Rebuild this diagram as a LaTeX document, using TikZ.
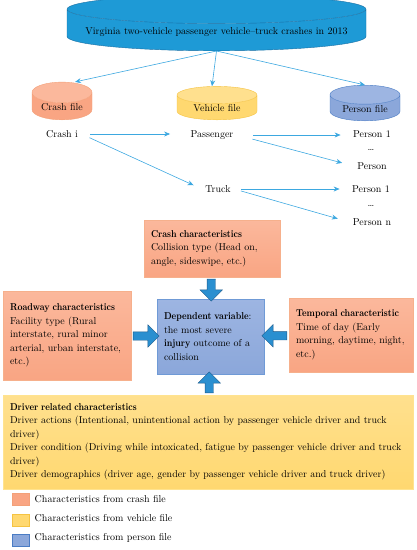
\documentclass[tikz,border=0pt]{standalone}
\usetikzlibrary{arrows.meta, positioning, shapes.geometric, shapes.arrows, calc}

\definecolor{dbfill}{HTML}{1E9AD6}
\definecolor{dbedge}{HTML}{1A6FA3}
\definecolor{crashfill}{HTML}{F9A583}
\definecolor{crashtop}{HTML}{FBB89C}
\definecolor{crashedge}{HTML}{F3A078}
\definecolor{vehfill}{HTML}{FFD870}
\definecolor{vehtop}{HTML}{FFE08E}
\definecolor{vehedge}{HTML}{F5C342}
\definecolor{persfill}{HTML}{8BA7DA}
\definecolor{perstop}{HTML}{9DB5E2}
\definecolor{persedge}{HTML}{4A7CC4}
\definecolor{linkblue}{HTML}{3DA8E0}
\definecolor{arrowfill}{HTML}{2A8FD0}
\definecolor{arrowedge}{HTML}{1F5A8A}
\definecolor{boxedge}{HTML}{F6B08C}
\definecolor{drvedge}{HTML}{FFE38F}
\definecolor{depedge}{HTML}{6F9AD6}

\newcommand{\headline}[1]{\scalebox{0.87}[1]{\textbf{#1}}}

\begin{document}
\begin{tikzpicture}[x=1pt, y=-1pt, >={Stealth[length=6pt,width=5pt]},
  font=\fontsize{10}{13.5}\selectfont,
  file node/.style={cylinder, shape border rotate=90, draw, thin, cylinder uses custom fill, anchor=south},
  small file/.style={file node, inner sep=1pt, minimum height=31pt},
  info box/.style={rectangle, draw, thin, align=left, inner xsep=7pt},
  crash box/.style={info box, draw=boxedge, top color=crashtop, bottom color=crashfill},
  link/.style={->, draw=linkblue, line width=0.6pt},
  big arrow/.style={single arrow, draw=arrowedge, fill=arrowfill, thin, inner sep=4pt,
    minimum width=22pt, single arrow head extend=7pt},
  key box/.style={rectangle, draw, thin, minimum width=17pt, minimum height=12pt, inner sep=0pt}]

  \useasboundingbox (0,0) rectangle (417,550);

  % data files
  \node[file node, draw=dbedge, cylinder body fill=dbfill, cylinder end fill=dbfill,
    minimum width=299pt, minimum height=48pt, aspect=0.107] (db) at (216.5,51)
    {Virginia two-vehicle passenger vehicle--truck crashes in 2013};
  \node[small file, draw=crashedge, cylinder body fill=crashfill, cylinder end fill=crashtop,
    minimum width=60pt, aspect=0.47] (crashf) at (62,120) {Crash file};
  \node[small file, draw=vehedge, cylinder body fill=vehfill, cylinder end fill=vehtop,
    minimum width=80pt, aspect=0.35] (vehf) at (217,120) {Vehicle file};
  \node[small file, draw=persedge, cylinder body fill=persfill, cylinder end fill=perstop,
    minimum width=70pt, aspect=0.4] (persf) at (365,121) {Person file};

  \draw[link] (db.south) -- ([xshift=13pt]crashf.north);
  \draw[link] (db.south) -- ([xshift=-5pt]vehf.north);
  \draw[link] (db.south) -- (persf.north);

  % records
  \node (crashi) at (62,134) {Crash i};
  \node (pass) at (212,135) {Passenger};
  \node (truck) at (218,189) {Truck};
  \node (pp1) at (372,134) {Person 1};
  \node (ppdots) at (371,150) {\dots};
  \node (ppn) at (372,166) {Person};
  \node (tp1) at (371,189) {Person 1};
  \node (tpdots) at (371,206) {\dots};
  \node (tpn) at (372,222) {Person n};

  \draw[link, shorten <=9pt, shorten >=17pt] (crashi.east) -- (crashi.east -| pass.west);
  \draw[link, shorten <=9pt, shorten >=9pt] (crashi.east) -- (truck.west);
  \draw[link, shorten <=16pt, shorten >=9pt] (pass.east) -- (pass.east -| pp1.west);
  \draw[link, shorten <=16pt, shorten >=12pt] (pass.east) -- (ppn.west);
  \draw[link, shorten <=7pt, shorten >=9pt] (truck.east) -- (tp1.west);
  \draw[link, shorten <=7pt, shorten >=12pt] (truck.east) -- (tpn.west);

  % characteristics
  \node[crash box, text width=122pt, minimum height=57pt] (crashc) at (212,248.5)
    {\headline{Crash characteristics}\\Collision type (Head on,\\angle, sideswipe, etc.)};
  \node[crash box, text width=114pt, minimum height=89pt] (road) at (67,335.5)
    {\headline{Roadway characteristics}\\Facility type (Rural\\interstate, rural minor\\arterial, urban interstate,\\etc.)};
  \node[crash box, text width=110pt, minimum height=74pt] (temp) at (351,335)
    {\headline{Temporal characteristic}\\Time of day (Early\\morning, daytime, night,\\etc.)};
  \node[info box, draw=depedge, top color=perstop, bottom color=persfill,
    text width=93pt, minimum height=75pt] (dep) at (210.5,336.5)
    {\headline{Dependent variable}:\\the most severe\\\headline{injury} outcome of a\\collision};
  \node[info box, draw=drvedge, top color=vehtop, bottom color=vehfill,
    text width=396pt, minimum height=94pt] (drv) at (208,442)
    {\headline{Driver related characteristics}\\
     Driver actions (Intentional, unintentional action by passenger vehicle driver and truck\\driver)\\
     Driver condition (Driving while intoxicated, fatigue by passenger vehicle driver and truck\\driver)\\
     Driver demographics (driver age, gender by passenger vehicle driver and truck driver)};

  \node[big arrow, rotate=-90, minimum height=22pt] (a1) at ($(crashc.south)!0.5!(dep.north)$) {};
  \node[big arrow, minimum height=26pt] (a2) at ($(road.east)!0.5!(dep.west)$) {};
  \node[big arrow, rotate=180, minimum height=25pt] (a3) at ($(temp.west)!0.5!(dep.east)$) {};
  \node[big arrow, rotate=90, minimum height=21pt] (a4) at ($(drv.north)!0.5!(dep.south)$) {};

  % legend
  \node[key box, draw=crashedge, fill=crashfill] (k1) at (20.5,499) {};
  \node[key box, draw=vehedge, fill=vehfill] (k2) at (20.5,520.5) {};
  \node[key box, draw=persedge, fill=persfill] (k3) at (20.5,540.5) {};
  \node[right=2pt of k1] (t1) {Characteristics from crash file};
  \node[right=2pt of k2, yshift=2pt] (t2) {Characteristics from vehicle file};
  \node[right=2pt of k3, yshift=3pt] (t3) {Characteristics from person file};
\end{tikzpicture}
\end{document}
